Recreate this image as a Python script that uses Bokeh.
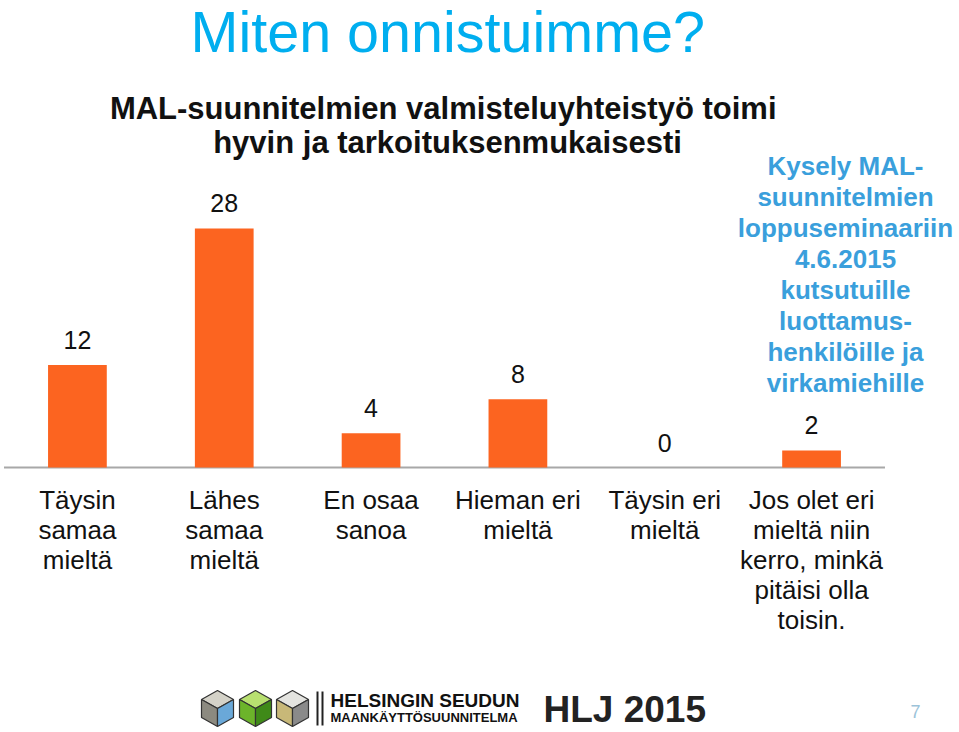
from bokeh.plotting import figure
from bokeh.models import Range1d
from bokeh.core.properties import value
from bokeh.embed import file_html
from bokeh.resources import INLINE

# ---------------- data ----------------
slide_title = "Miten onnistuimme?"
chart_title = ["MAL-suunnitelmien  valmisteluyhteistyö toimi",
               "hyvin ja tarkoituksenmukaisesti"]
categories = ["Täysin\nsamaa\nmieltä",
              "Lähes\nsamaa\nmieltä",
              "En osaa\nsanoa",
              "Hieman eri\nmieltä",
              "Täysin eri\nmieltä",
              "Jos olet eri\nmieltä niin\nkerro, minkä\npitäisi olla\ntoisin."]
values = [12, 28, 4, 8, 0, 2]
side_note = ["Kysely MAL-", "suunnitelmien", "loppuseminaariin", "4.6.2015",
             "kutsutuille", "luottamus-", "henkilöille ja", "virkamiehille"]
org_name = ["HELSINGIN SEUDUN", "MAANKÄYTTÖSUUNNITELMA"]
brand = "HLJ 2015"
page_no = "7"

# ---------------- layout helpers (page pixels -> data) ----------------
W, H = 959, 732
X0, XS = 3.5, 146.83      # page x of first category edge, px per category
Y0, YS = 467.0, 8.536     # page y of baseline, px per unit


def dx(px):
    return (px - X0) / XS


def dy(py):
    return (Y0 - py) / YS


def by(baseline_px, size):
    # text anchor sits about 0.36 em above the baseline
    return dy(baseline_px - 0.36 * size)


FONT = value("Liberation Sans")

p = figure(width=W, height=H, output_backend="svg", toolbar_location=None,
           x_range=Range1d(dx(0), dx(W)), y_range=Range1d(dy(H), dy(0)),
           x_axis_location=None, y_axis_location=None, min_border=0,
           outline_line_color=None, background_fill_color="white",
           border_fill_color="white")
p.grid.visible = False

# slide title
p.text(x=[dx(190)], y=[by(52, 57.5)], text=[slide_title], text_font=FONT,
       text_font_size="57.5px", text_color="#00AEEF", text_align="left",
       text_baseline="alphabetic")

# chart title
p.text(x=[dx(447)] * len(chart_title),
       y=[by(119 + 34 * i, 31) for i in range(len(chart_title))],
       text=chart_title, text_font=FONT, text_font_style="bold", text_font_size="31px",
       text_color="#111111", text_align="center", text_baseline="alphabetic")

# baseline and bars
n = len(values)
xs = [i + 0.5 for i in range(n)]
p.segment(x0=[0], y0=[0], x1=[n], y1=[0], line_color="#A8A8A8", line_width=2)
p.vbar(x=xs, top=values, bottom=0, width=0.4, fill_color="#FC6420", line_color=None)

# value labels
p.text(x=xs, y=values, text=[str(v) for v in values], y_offset=-25,
       text_font=FONT, text_font_size="25px", text_color="#111111",
       text_align="center", text_baseline="alphabetic")

# category labels
cx, cy, ct = [], [], []
for i, c in enumerate(categories):
    for k, line in enumerate(c.split("\n")):
        cx.append(i + 0.5)
        cy.append(by(509 + 30 * k, 26))
        ct.append(line)
p.text(x=cx, y=cy, text=ct, text_font=FONT, text_font_size="26px",
       text_color="#111111", text_align="center", text_baseline="alphabetic")

# side note
p.text(x=[dx(845)] * len(side_note),
       y=[by(175 + 31 * i, 26) for i in range(len(side_note))],
       text=side_note, text_font=FONT, text_font_style="bold", text_font_size="26px",
       text_color="#3A9FDC", text_align="center", text_baseline="alphabetic")

# footer cubes
cube_centers = [217, 255, 292]
cube_colors = [("#d4d2c8", "#8c8a80", "#6aa8d8"),
               ("#b8e070", "#6cb42a", "#3f8a18"),
               ("#e4e4e0", "#c8b878", "#8a8a8a")]
fx, fy, fc = [], [], []
for cxp, cols in zip(cube_centers, cube_colors):
    cyp = 708
    top = (cxp, cyp - 18)
    ur = (cxp + 16, cyp - 9)
    lr = (cxp + 16, cyp + 9)
    bot = (cxp, cyp + 18)
    ll = (cxp - 16, cyp + 9)
    ul = (cxp - 16, cyp - 9)
    ctr = (cxp, cyp)
    for face, col in zip([(top, ur, ctr, ul), (ul, ctr, bot, ll), (ctr, ur, lr, bot)], cols):
        fx.append([dx(pt[0]) for pt in face])
        fy.append([dy(pt[1]) for pt in face])
        fc.append(col)
p.patches(xs=fx, ys=fy, fill_color=fc, line_color="#333333", line_width=1.2)

# double bar separator
p.segment(x0=[dx(317), dx(322)], y0=[dy(691)] * 2, x1=[dx(317), dx(322)], y1=[dy(725)] * 2,
          line_color="#222222", line_width=2)

p.text(x=[dx(330)], y=[by(707, 19)], text=[org_name[0]], text_font=FONT, text_font_style="bold",
       text_font_size="19px", text_color="#111111", text_align="left", text_baseline="alphabetic")
p.text(x=[dx(330)], y=[by(722, 13)], text=[org_name[1]], text_font=FONT, text_font_style="bold",
       text_font_size="13px", text_color="#111111", text_align="left", text_baseline="alphabetic")
p.text(x=[dx(543)], y=[by(722, 37)], text=[brand], text_font=FONT, text_font_style="bold",
       text_font_size="37px", text_color="#222222", text_align="left", text_baseline="alphabetic")
p.text(x=[dx(915)], y=[by(717, 18)], text=[page_no], text_font=FONT,
       text_font_size="18px", text_color="#9CC3D9", text_align="center", text_baseline="alphabetic")

open("out.html", "w").write(file_html(p, INLINE))
